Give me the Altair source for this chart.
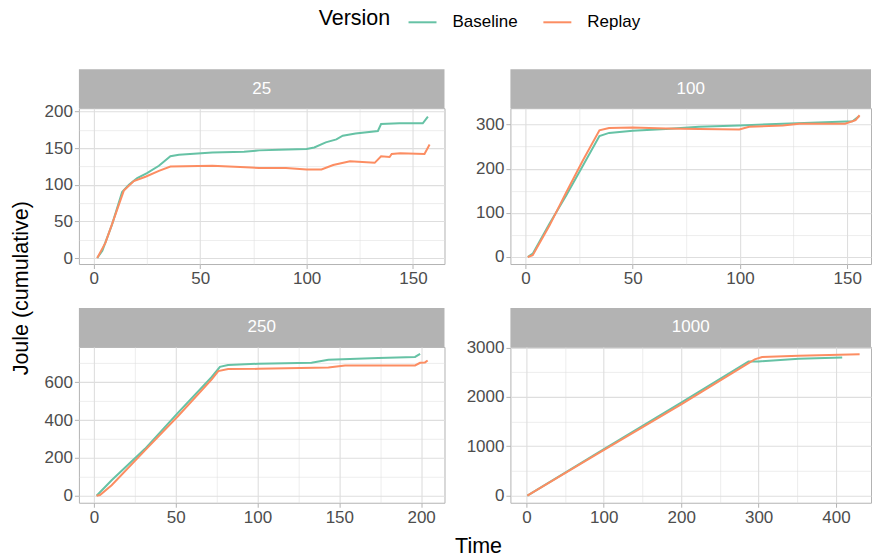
import altair as alt
import pandas as pd

FONT = "Liberation Sans"
VERSIONS = ["Baseline", "Replay"]
COLORS = ["#66C2A5", "#FC8D62"]

# ---- cumulative energy traces (time in s, energy in J) ----
t25_base = [1.6, 4, 8.6, 13.3, 16.5, 20.4, 25, 30.6, 36, 40, 55.7, 70.6, 77.7, 87, 100,
            103.6, 109, 114, 117, 123, 133.5, 135, 143.6, 154.6, 157]
j25_base = [0, 10, 46, 90, 100, 109, 116, 126, 139, 141, 144, 145, 147, 148, 149,
            151, 158, 162, 167, 170, 173.5, 183, 184, 184, 193]
t25_repl = [1.6, 5.5, 9.4, 14.1, 18.8, 24.3, 30.6, 36, 55.7, 71.4, 77.7, 90.3, 100, 107,
            112.5, 120.4, 132, 135, 139, 140, 144, 155.4, 157.8]
j25_repl = [0, 21, 53, 92, 105, 111, 119, 125, 126, 124, 123, 123, 121, 121,
            127, 132, 130, 139, 138, 142, 143, 142, 155]

t100_base = [1.1, 3.4, 11.2, 19, 26.7, 34.5, 39, 50, 65.5, 81, 99.7, 120, 143, 152.5, 155.6]
j100_base = [0, 7.5, 75, 139, 206, 274, 281, 286, 290, 295, 298, 302, 306, 307.5, 319]
t100_repl = [1.1, 3.4, 11.2, 19, 26.7, 34.5, 39, 50, 65.5, 81, 99.7, 104.3, 120, 127.6,
             149, 153.9, 155.8]
j100_repl = [0, 4, 71, 146, 218, 287, 292, 293, 291, 290, 289, 295, 298, 301.5,
             302, 310, 321]

t250_base = [1.6, 10.8, 31.2, 51.6, 72, 77, 82, 100.5, 133, 143.3, 173.9, 196.3, 199.4]
j250_base = [0, 82, 248, 441, 628, 682, 691, 698, 703, 719, 729, 734, 750]
t250_repl = [1.6, 3.7, 10.8, 31.2, 51.6, 72, 76, 82, 100.5, 143.3, 153.5, 196.3, 199.4,
             202.4, 204]
j250_repl = [0, 3.5, 56, 240, 423, 615, 659, 670, 671, 678, 689, 689, 703, 705, 715]

t1000_base = [1.3, 93.8, 200, 287, 300, 352, 408]
j1000_base = [0, 882, 1884, 2719, 2719, 2772, 2799]
t1000_repl = [1.3, 93.8, 200, 287, 295, 304.5, 352, 430.5]
j1000_repl = [0, 868, 1850, 2685, 2760, 2806, 2832, 2865]


def traces(tb, jb, tr, jr):
    rows = []
    for i, (t, j) in enumerate(zip(tb, jb)):
        rows.append({"Time": t, "Joule": j, "Version": "Baseline", "i": i})
    for i, (t, j) in enumerate(zip(tr, jr)):
        rows.append({"Time": t, "Joule": j, "Version": "Replay", "i": i})
    return pd.DataFrame(rows)


def axis_for(domain, step, orient):
    # major ticks every `step`, minor grid lines halfway between them
    half = step / 2
    k = int(domain[0] // half) + (1 if domain[0] % half else 0)
    vals = []
    while k * half <= domain[1]:
        vals.append(k * half)
        k += 1
    major = f"abs(datum.value % {step}) < 1e-6"
    return alt.Axis(
        values=vals,
        orient=orient,
        title=None,
        labelExpr=f"{major} ? format(datum.value, 'd') : ''",
        labelOverlap=False,
        gridWidth={"condition": {"test": major, "value": 1.1}, "value": 0.55},
        tickOpacity={"condition": {"test": major, "value": 1}, "value": 0},
    )


STRIP_H = 39
PLOT_H = 156


def panel(label, df, xdom, ydom, xstep, ystep, width):
    lines = alt.Chart(df).mark_line(strokeWidth=2, clip=True).encode(
        x=alt.X("Time:Q", scale=alt.Scale(domain=xdom, nice=False, zero=False),
                axis=axis_for(xdom, xstep, "bottom")),
        y=alt.Y("Joule:Q", scale=alt.Scale(domain=ydom, nice=False, zero=False),
                axis=axis_for(ydom, ystep, "left")),
        color=alt.Color(
            "Version:N",
            scale=alt.Scale(domain=VERSIONS, range=COLORS),
            legend=alt.Legend(
                title="Version", orient="none", direction="horizontal",
                titleOrient="left", legendX=240, legendY=-101,
                symbolType="stroke", symbolStrokeWidth=2, symbolSize=784,
                labelFontSize=17, titleFontSize=21.5, labelColor="black",
                titleColor="black", titleFontWeight="normal", labelFont=FONT,
                titleFont=FONT, labelOffset=15, columnPadding=21, titlePadding=17,
            ),
        ),
        order="i:Q",
    )
    lab = pd.DataFrame({"label": [label]})
    strip = alt.Chart(lab).mark_rect(color="#B3B3B3").encode(
        x=alt.value(0), x2=alt.value(width), y=alt.value(-STRIP_H), y2=alt.value(0)
    )
    text = alt.Chart(lab).mark_text(
        color="white", fontSize=17, font=FONT, baseline="middle", align="center"
    ).encode(x=alt.value(width / 2), y=alt.value(-STRIP_H / 2), text="label:N")
    return alt.layer(strip, text, lines).properties(width=width, height=PLOT_H)


W1, W2 = 366, 361
p25 = panel("25", traces(t25_base, j25_base, t25_repl, j25_repl),
            [-7.0, 164.8], [-8.2, 204.6], 50, 50, W1)
p100 = panel("100", traces(t100_base, j100_base, t100_repl, j100_repl),
             [-7.0, 161.1], [-16, 337], 50, 100, W2)
p250 = panel("250", traces(t250_base, j250_base, t250_repl, j250_repl),
             [-9.2, 214.3], [-37, 787], 50, 200, W1)
p1000 = panel("1000", traces(t1000_base, j1000_base, t1000_repl, j1000_repl),
              [-20.6, 445.2], [-143, 3012], 100, 1000, W2)

grid = alt.concat(
    p25, p100, p250, p1000, columns=2,
    spacing={"row": 20, "column": 20},
    title=alt.TitleParams("Time", orient="bottom", anchor="middle", fontSize=21.5,
                          font=FONT, fontWeight="normal", color="black", offset=10,
                          dx=21),
)

chart = alt.vconcat(
    grid,
    title=alt.TitleParams("Joule (cumulative)", orient="left", anchor="middle",
                          fontSize=21.5, font=FONT, fontWeight="normal",
                          color="black", offset=11, dx=-6),
).properties(
    padding={"left": 11, "top": 7, "right": 0, "bottom": 4},
    background="white",
).configure_view(
    stroke="#B3B3B3", strokeWidth=1
).configure_axis(
    labelFont=FONT, labelFontSize=17, labelColor="#4D4D4D", labelPadding=2,
    tickColor="#B3B3B3", tickSize=4.5, tickWidth=1, domain=False,
    gridColor="#DEDEDE",
)

chart.save("out.html", embed_options={"renderer": "svg", "actions": False})
